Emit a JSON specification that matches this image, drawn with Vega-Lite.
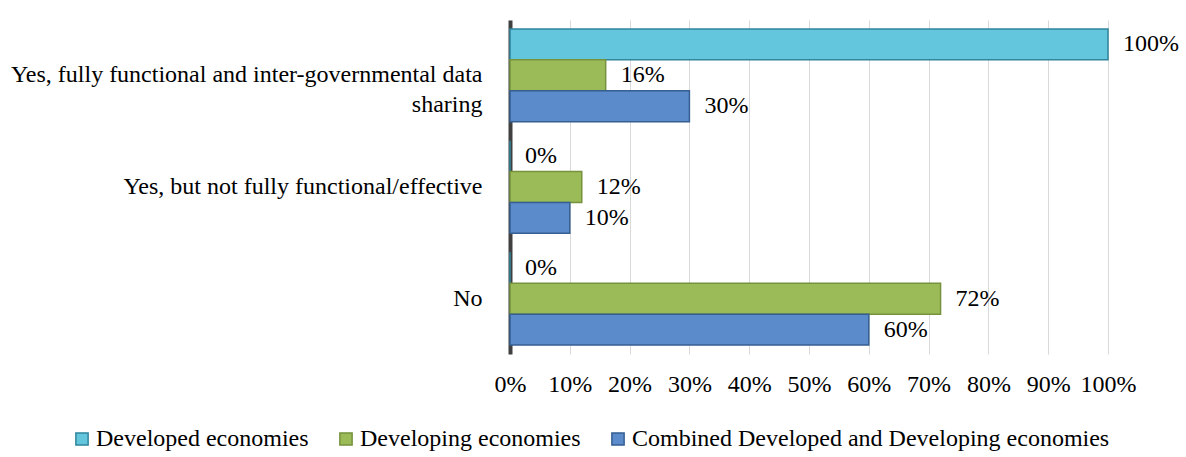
{
  "$schema": "https://vega.github.io/schema/vega-lite/v6.json",
  "width": 598,
  "height": 334,
  "padding": {"left": 10, "top": 20, "right": 5, "bottom": 5},
  "background": "white",
  "config": {
    "font": "Liberation Serif",
    "view": {"stroke": null},
    "axis": {"labelFont": "Liberation Serif", "labelFontSize": 24, "labelColor": "#000000"}
  },
  "data": {
    "values": [
      {"answer": "Yes, fully functional and inter-governmental data sharing", "series": "Developed economies", "value": 1.0},
      {"answer": "Yes, fully functional and inter-governmental data sharing", "series": "Developing economies", "value": 0.16},
      {"answer": "Yes, fully functional and inter-governmental data sharing", "series": "Combined Developed and Developing economies", "value": 0.30},
      {"answer": "Yes, but not fully functional/effective", "series": "Developed economies", "value": 0.0},
      {"answer": "Yes, but not fully functional/effective", "series": "Developing economies", "value": 0.12},
      {"answer": "Yes, but not fully functional/effective", "series": "Combined Developed and Developing economies", "value": 0.10},
      {"answer": "No", "series": "Developed economies", "value": 0.0},
      {"answer": "No", "series": "Developing economies", "value": 0.72},
      {"answer": "No", "series": "Combined Developed and Developing economies", "value": 0.60}
    ]
  },
  "encoding": {
    "y": {
      "field": "answer",
      "type": "nominal",
      "sort": null,
      "title": null,
      "scale": {"paddingInner": 0.17, "paddingOuter": 0.08},
      "axis": {
        "ticks": false,
        "domain": true,
        "domainColor": "#404040",
        "domainWidth": 4,
        "labelPadding": 28,
        "labelLimit": 700,
        "labelLineHeight": 30,
        "labelAlign": "right",
        "labelExpr": "datum.label == 'Yes, fully functional and inter-governmental data sharing' ? ['Yes, fully functional and inter-governmental data', 'sharing'] : datum.label"
      }
    },
    "yOffset": {
      "field": "series",
      "type": "nominal",
      "sort": ["Developed economies", "Developing economies", "Combined Developed and Developing economies"]
    }
  },
  "layer": [
    {
      "mark": {"type": "bar", "strokeWidth": 1.5},
      "encoding": {
        "x": {
          "field": "value",
          "type": "quantitative",
          "scale": {"domain": [0, 1]},
          "title": null,
          "axis": {
            "format": ".0%",
            "values": [0, 0.1, 0.2, 0.3, 0.4, 0.5, 0.6, 0.7, 0.8, 0.9, 1.0],
            "domain": false,
            "ticks": false,
            "grid": true,
            "gridColor": "#d9d9d9",
            "labelPadding": 18,
            "labelFlush": false,
            "labelOverlap": false
          }
        },
        "color": {
          "field": "series",
          "type": "nominal",
          "sort": ["Developed economies", "Developing economies", "Combined Developed and Developing economies"],
          "scale": {"range": ["#63c6dd", "#9bbb59", "#5b8bcb"]},
          "legend": {
            "title": null,
            "orient": "none",
            "direction": "horizontal",
            "legendX": -440,
            "legendY": 407,
            "labelFont": "Liberation Serif",
            "labelFontSize": 24,
            "labelColor": "#000000",
            "symbolType": "square",
            "symbolSize": 150,
            "columnPadding": 25,
            "labelOffset": 2,
            "labelLimit": 700,
            "encode": {
              "symbols": {
                "update": {
                  "stroke": {"signal": "datum.value == 'Developed economies' ? '#31859c' : datum.value == 'Developing economies' ? '#76923c' : '#365f91'"},
                  "strokeWidth": {"value": 1.5}
                }
              }
            }
          }
        },
        "stroke": {
          "field": "series",
          "type": "nominal",
          "sort": ["Developed economies", "Developing economies", "Combined Developed and Developing economies"],
          "scale": {"range": ["#31859c", "#76923c", "#365f91"]},
          "legend": null
        }
      }
    },
    {
      "mark": {"type": "text", "align": "left", "dx": 15, "font": "Liberation Serif", "fontSize": 24, "color": "#000000"},
      "encoding": {
        "x": {"field": "value", "type": "quantitative"},
        "text": {"field": "value", "type": "quantitative", "format": ".0%"}
      }
    }
  ]
}
